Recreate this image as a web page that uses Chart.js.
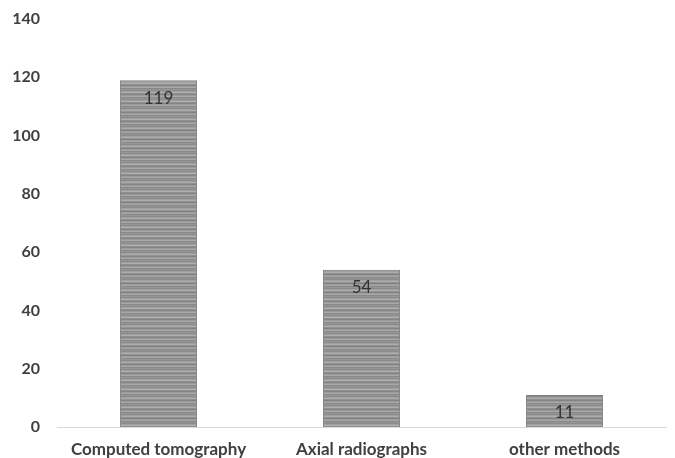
<!DOCTYPE html>
<html>
<head>
<meta charset="utf-8">
<script src="https://cdn.jsdelivr.net/npm/chart.js@4"></script>
<style>
html,body{margin:0;padding:0;background:#fff;}
#wrap{width:675px;height:458px;}
</style>
</head>
<body>
<div id="wrap"><canvas id="c" width="675" height="458"></canvas></div>
<script>
const categories = ["Computed tomography", "Axial radiographs", "other methods"];
const values = [119, 54, 11];
const yTicks = [0, 20, 40, 60, 80, 100, 120, 140];

function makePattern() {
  const pc = document.createElement('canvas');
  pc.width = 4; pc.height = 9;
  const g = pc.getContext('2d');
  const rows = ['#8a8a8a','#a0a0a0','#adadad','#919191','#838383','#9b9b9b','#a8a8a8','#888888','#969696'];
  rows.forEach((c, i) => { g.fillStyle = c; g.fillRect(0, i, 4, 1); });
  return g.createPattern(pc, 'repeat');
}

const labelPlugin = {
  id: 'barLabels',
  afterDatasetsDraw(chart) {
    const ctx = chart.ctx;
    const meta = chart.getDatasetMeta(0);
    ctx.save();
    ctx.font = '17px Lato, "Liberation Sans", sans-serif';
    ctx.fillStyle = '#333333';
    ctx.textAlign = 'center';
    ctx.textBaseline = 'middle';
    meta.data.forEach((bar, i) => {
      ctx.fillText(String(values[i]), bar.x, bar.y + 18);
    });
    ctx.restore();
  }
};

new Chart(document.getElementById('c'), {
  type: 'bar',
  data: {
    labels: categories,
    datasets: [{
      data: values,
      backgroundColor: makePattern(),
      borderColor: '#7f7f7f',
      borderWidth: 1,
      barPercentage: 0.38,
      categoryPercentage: 1.0
    }]
  },
  options: {
    responsive: false,
    animation: false,
    layout: { padding: { top: 19, right: 9, bottom: 0, left: 0 } },
    plugins: { legend: { display: false }, tooltip: { enabled: false } },
    scales: {
      x: {
        afterFit(scale) { scale.paddingLeft = 0; scale.paddingRight = 0; scale.height = 31; },
        grid: { display: false, drawTicks: false },
        border: { display: true, color: '#d9d9d9', width: 1 },
        ticks: {
          color: '#404040',
          padding: 12,
          font: { family: 'Lato, "Open Sans", sans-serif', size: 17, weight: 'bold' }
        }
      },
      y: {
        min: 0, max: 140,
        afterFit(scale) { scale.width = 57; scale.paddingTop = 0; scale.paddingBottom = 0; },
        afterBuildTicks(scale) { scale.ticks = yTicks.map(v => ({ value: v })); },
        grid: { display: false, drawTicks: false },
        border: { display: false },
        ticks: {
          color: '#404040',
          padding: 17,
          font: { family: 'Lato, "Open Sans", sans-serif', size: 16, weight: 'bold' }
        }
      }
    }
  },
  plugins: [labelPlugin]
});
</script>
</body>
</html>
